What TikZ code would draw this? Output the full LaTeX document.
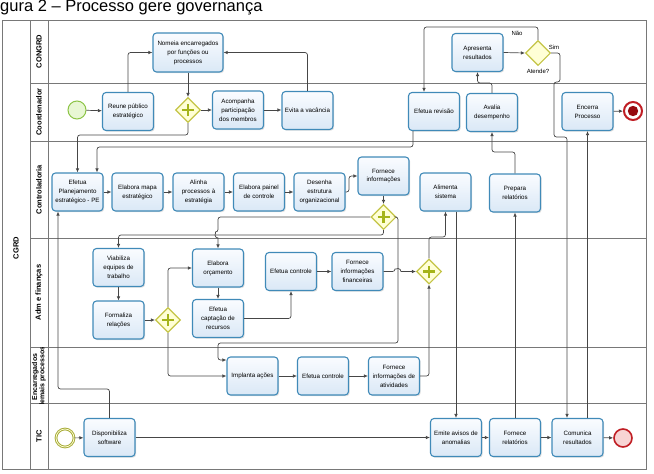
\documentclass[tikz,border=0pt]{standalone}
\usepackage{fontspec}
\setmainfont{Liberation Sans}
\usetikzlibrary{arrows.meta,shapes.geometric,shadows}

\definecolor{taskb}{RGB}{64,138,184}
\definecolor{taskt}{RGB}{250,252,255}
\definecolor{taskbot}{RGB}{218,232,246}
\definecolor{gwb}{RGB}{196,196,70}
\definecolor{gwf}{RGB}{255,255,214}
\definecolor{gwp}{RGB}{165,180,25}
\definecolor{lineg}{RGB}{70,70,70}
\definecolor{frameg}{RGB}{120,120,120}
\definecolor{startb}{RGB}{140,196,70}
\definecolor{startf}{RGB}{232,247,212}
\definecolor{endb}{RGB}{192,30,36}
\definecolor{endf}{RGB}{248,212,212}
\definecolor{endin}{RGB}{150,10,15}
\definecolor{tstartb}{RGB}{168,172,60}

\begin{document}
\begin{tikzpicture}[x=1pt,y=-1pt,
 task/.style={draw=taskb, line width=1.1pt, rounded corners=3.5pt, top color=taskt, bottom color=taskbot,
   minimum width=51pt, minimum height=38pt, inner sep=0.5pt, align=center,
   font=\fontsize{6.2}{8.9}\selectfont,
   drop shadow={shadow xshift=1.2pt, shadow yshift=-1.2pt, opacity=0.25}},
 xgw/.style={diamond, draw=gwb, fill=gwf, line width=1.1pt, minimum width=25pt, minimum height=25pt, inner sep=0pt},
 pgw/.style={xgw, path picture={\draw[gwp,line width=2.8pt]
   ([xshift=-6pt]path picture bounding box.center) -- ([xshift=6pt]path picture bounding box.center)
   ([yshift=-6pt]path picture bounding box.center) -- ([yshift=6pt]path picture bounding box.center);}},
 flow/.style={draw=lineg, line width=0.7pt, rounded corners=2.5pt, -{Latex[length=4pt,width=3.5pt]}},
 frame/.style={draw=frameg, line width=0.8pt},
 lanelbl/.style={rotate=90, font=\bfseries\fontsize{7.5}{8}\selectfont, align=center},
 lbl/.style={font=\fontsize{6}{7}\selectfont, inner sep=0.5pt},
 startev/.style={circle, draw=startb, fill=startf, line width=1pt, minimum size=18pt, inner sep=0pt},
 tstartev/.style={circle, draw=tstartb, double=gwf, double distance=0.7pt, line width=1pt, fill=white, minimum size=18pt, inner sep=0pt},
 endev/.style={circle, draw=endb, fill=white, line width=2pt, minimum size=18pt, inner sep=0pt,
   path picture={\fill[endin] (path picture bounding box.center) circle (5.2pt);}},
 tendev/.style={circle, draw=endb, fill=endf, line width=1.6pt, minimum size=18pt, inner sep=0pt}
]
\useasboundingbox (0,0) rectangle (654,474);
\clip (0,0) rectangle (654,474);

% title
\node[anchor=base west, inner sep=0pt, font=\fontsize{16.5}{16.5}\selectfont] (title) at (0,11) {gura 2 – Processo gere governança};

% pool and lanes
\draw[frame] (2,20) rectangle (646,469);
\draw[frame] (30,20) -- (30,469);
\draw[frame] (48,20) -- (48,469);
\foreach \yy in {83,141,238,347,403} { \draw[frame] (30,\yy) -- (646,\yy); }
\node[lanelbl] (pool) at (16,248) {CGRD};
\node[lanelbl] (l1) at (39,51.5) {CONGRD};
\node[lanelbl] (l2) at (39,112) {Coordenador};
\node[lanelbl] (l3) at (39,189.5) {Controladoria};
\node[lanelbl] (l4) at (39,292.5) {Adm e finanças};
\begin{scope}
\clip (30,347) rectangle (48,403);
\node[lanelbl, font=\bfseries\fontsize{7}{7.2}\selectfont] (l5) at (39,377) {Encarregados\\demais processos};
\end{scope}
\node[lanelbl] (l6) at (39,436) {TIC};

% CONGRD / Coordenador
\node[task, minimum width=70pt, minimum height=39pt] (nomeia) at (188,52.5) {Nomeia encarregados\\por funções ou\\processos};
\node[startev] (start1) at (77,110) {};
\node[task] (reune) at (128,111.5) {Reune público\\estratégico};
\node[pgw] (g1) at (188,110) {};
\node[task] (acomp) at (238,110) {Acompanha\\participação\\dos membros};
\node[task] (evita) at (307.5,110.5) {Evita a vacância};
\node[task] (revisao) at (434,111.5) {Efetua revisão};
\node[task] (avalia) at (492,112.5) {Avalia\\desempenho};
\node[task] (apres) at (477.5,52.5) {Apresenta\\resultados};
\node[xgw] (dec) at (538,53) {};
\node[task] (encerra) at (587.5,111.5) {Encerra\\Processo};
\node[endev] (fim1) at (633,111) {};
\node[lbl] (nao) at (517,33) {Não};
\node[lbl] (sim) at (554,47) {Sim};
\node[lbl] (atende) at (538,71) {Atende?};

% Controladoria
\node[task] (pe) at (77.5,192) {Efetua\\Planejamento\\estratégico - PE};
\node[task] (mapa) at (137.5,192) {Elabora mapa\\estratégico};
\node[task] (alinha) at (198.5,192) {Alinha\\processos à\\estratégia};
\node[task] (painel) at (259,192) {Elabora painel\\de controle};
\node[task] (desenha) at (319.5,192) {Desenha\\estrutura\\organizacional};
\node[task] (fornece) at (383.5,176) {Fornece\\informações};
\node[pgw] (g2) at (383.5,217) {};
\node[task] (alimenta) at (445.5,192) {Alimenta\\sistema};
\node[task] (prepara) at (515,193) {Prepara\\relatórios};

% Adm e financas
\node[task] (viab) at (118.5,267.5) {Viabiliza\\equipes de\\trabalho};
\node[task] (formal) at (118.5,320) {Formaliza\\relações};
\node[pgw] (g3) at (168,320) {};
\node[task] (orc) at (218,268) {Elabora\\orçamento};
\node[task] (capt) at (218,318.5) {Efetua\\captação de\\recursos};
\node[task] (ctrl) at (291,271.5) {Efetua controle};
\node[task] (ffin) at (357.5,271.5) {Fornece\\informações\\financeiras};
\node[pgw] (g4) at (429,271.5) {};

% Encarregados
\node[task] (impl) at (252.5,376) {Implanta ações};
\node[task] (ctrl2) at (323,376) {Efetua controle};
\node[task] (fativ) at (394,376) {Fornece\\informações de\\atividades};

% TIC
\node[tstartev] (start2) at (65,438) {};
\node[task] (disp) at (109.5,437.5) {Disponibiliza\\software};
\node[task] (emite) at (456,437.5) {Emite avisos de\\anomalias};
\node[task] (frel) at (515,437.5) {Fornece\\relatórios};
\node[task] (comun) at (577.5,437.5) {Comunica\\resultados};
\node[tendev] (fim2) at (623,438) {};

% connectors
\draw[flow] (start1) -- (reune);
\draw[flow] (reune.north) |- (nomeia.west);
\draw[flow] (evita.north) |- (nomeia.east);
\draw[flow] (nomeia.south) -- (g1.north);
\draw[flow] (g1) -- (acomp);
\draw[flow] (acomp.east) -- (acomp.east -| evita.west);
\draw[flow] (g1.south) -- (188,135) -| (pe.north);
\draw[flow] ([xshift=-21pt]revisao.south) -- (413,147) -- (97,147) -- ([xshift=19.5pt]pe.north);
\draw[flow] (dec.north) -- (538,27) -| ([xshift=-10pt]revisao.north);
\draw[flow] (apres.east) -- (dec.west);
\draw[flow] (avalia.north) -- (492,83) -| (apres.south);
\draw[flow] (dec.east) -- (560,53) -- (560,82) -- (554,82) -- (554,137) -- (567,137) -- ([xshift=-10.5pt]comun.north);
\draw[flow] (comun.north -| encerra.south) -- (encerra.south);
\draw[flow] (encerra) -- (fim1);

\draw[flow] (pe) -- (mapa);
\draw[flow] (mapa) -- (alinha);
\draw[flow] (alinha) -- (painel);
\draw[flow] (painel) -- (desenha);
\draw[flow] (desenha.east) -- (349,192) |- (fornece.west);
\draw[flow] (fornece.south) -- (g2.north);
\draw[flow] (g2.west) -- (218,217) -- (218,232) [sharp corners] arc[start angle=90, end angle=270, radius=3pt] -- (orc.north);
\draw[flow] (g2.south) -- (383.5,235) -| (viab.north);
\draw[flow] (g2.east) -- (398,217) -- (398,343) -- (218,343) -- (218,360) -- (impl.west |- 0,360);

\draw[flow] (viab) -- (formal);
\draw[flow] (formal) -- (g3);
\draw[flow] (g3.north) |- (orc.west);
\draw[flow] (g3.south) |- (impl.west);
\draw[flow] (orc) -- (capt);
\draw[flow] (capt.east) -| (ctrl.south);
\draw[flow] (ctrl) -- (ffin);
\draw[flow] (ffin.east) -- (395,271.5) [sharp corners] arc[start angle=180, end angle=0, radius=3pt] -- (g4.west);
\draw[flow] (impl) -- (ctrl2);
\draw[flow] (ctrl2) -- (fativ);
\draw[flow] (fativ.east) -| (g4.south);
\draw[flow] (g4.north) -- (429,237) -| (alimenta.south);
\draw[flow] (alimenta.south -| emite.north) -- (emite.north);
\draw[flow] (frel.north) -- (prepara.south);
\draw[flow] (prepara.north) -- (515,152) -| (avalia.south);

\draw[flow] (start2) -- (disp);
\draw[flow] (disp.north) -- (109.5,389) -| ([xshift=-19.5pt]pe.south);
\draw[flow] (disp) -- (emite);
\draw[flow] (emite) -- (frel);
\draw[flow] (frel) -- (comun);
\draw[flow] (comun) -- (fim2);
\end{tikzpicture}
\end{document}
